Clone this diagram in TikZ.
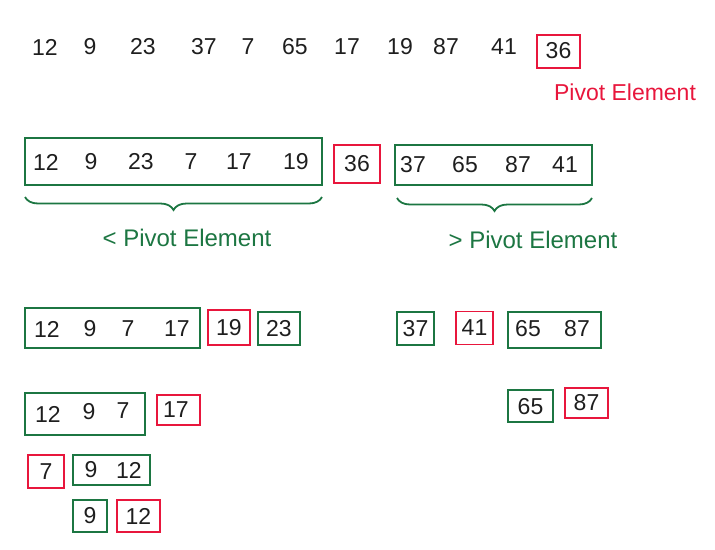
\documentclass[tikz,border=0pt]{standalone}
\usepackage{fontspec}
\setmainfont{Liberation Sans}
\usetikzlibrary{decorations.pathreplacing}
\definecolor{pgreen}{RGB}{28,118,66}
\definecolor{pred}{RGB}{232,22,60}
\definecolor{ink}{RGB}{30,30,30}
\tikzset{
  num/.style={inner sep=0pt, text=ink, font=\fontsize{23}{23}\selectfont},
  gbox/.style={draw=pgreen, line width=1.8pt, inner sep=0pt},
  rbox/.style={draw=pred, line width=1.8pt, inner sep=0pt},
  lbl/.style={inner sep=0pt, font=\fontsize{23}{23}\selectfont},
  brc/.style={draw=pgreen, line width=1.8pt, decorate, decoration={brace, mirror, amplitude=13pt}}
}
\begin{document}
\begin{tikzpicture}[x=1pt,y=1pt]
\useasboundingbox (0,0) rectangle (715,-549);
% Row 1
\node[num] (a1) at (45,-47) {12};
\node[num] (a2) at (90,-47) {9};
\node[num] (a3) at (143,-47) {23};
\node[num] (a4) at (204,-47) {37};
\node[num] (a5) at (248,-47) {7};
\node[num] (a6) at (295,-47) {65};
\node[num] (a7) at (347,-47) {17};
\node[num] (a8) at (400,-47) {19};
\node[num] (a9) at (446,-47) {87};
\node[num] (a10) at (504,-47) {41};
\node[rbox, minimum width=43, minimum height=33] (pb) at (558.5,-51.5) {};
\node[num] (a11) at (558.5,-51) {36};
\node[lbl, text=pred] (pl) at (625,-92) {Pivot Element};
% Row 2
\node[gbox, minimum width=297, minimum height=47] (L) at (173.5,-161.5) {};
\node[num] (b1) at (46,-162) {12};
\node[num] (b2) at (91,-162) {9};
\node[num] (b3) at (141,-162) {23};
\node[num] (b4) at (191,-162) {7};
\node[num] (b5) at (239,-162) {17};
\node[num] (b6) at (296,-162) {19};
\node[rbox, minimum width=46, minimum height=38] (P) at (357,-164) {};
\node[num] (b7) at (357,-164) {36};
\node[gbox, minimum width=197, minimum height=40] (R) at (493.5,-165) {};
\node[num] (b8) at (413,-165) {37};
\node[num] (b9) at (465,-165) {65};
\node[num] (b10) at (518,-165) {87};
\node[num] (b11) at (565,-165) {41};
% braces
\coordinate (l1) at (25,-197);
\coordinate (l2) at (322,-197);
\coordinate (r1) at (397,-198);
\coordinate (r2) at (592,-198);
\draw[brc] (l1) -- (l2);
\draw[brc] (r1) -- (r2);
\node[lbl, text=pgreen, font=\fontsize{24}{24}\selectfont] (ll) at (187,-238) {< Pivot Element};
\node[lbl, text=pgreen, font=\fontsize{24}{24}\selectfont] (rl) at (533,-240) {> Pivot Element};
% Row 3
\node[gbox, minimum width=175, minimum height=40] (c1) at (112.5,-328) {};
\node[num] (c1a) at (47,-329) {12};
\node[num] (c1b) at (90,-329) {9};
\node[num] (c1c) at (128,-329) {7};
\node[num] (c1d) at (177,-329) {17};
\node[rbox, minimum width=42, minimum height=35] (c2) at (229,-327.5) {};
\node[num] (c2a) at (229,-328) {19};
\node[gbox, minimum width=42, minimum height=33] (c3) at (279,-328.5) {};
\node[num] (c3a) at (279,-328.5) {23};
\node[gbox, minimum width=37, minimum height=33] (c4) at (415.5,-328.5) {};
\node[num] (c4a) at (415.5,-328.5) {37};
\node[rbox, minimum width=37, minimum height=33] (c5) at (474.5,-328) {};
\node[num] (c5a) at (474.5,-328) {41};
\node[gbox, minimum width=93, minimum height=36] (c6) at (554.5,-330) {};
\node[num] (c6a) at (528,-329) {65};
\node[num] (c6b) at (577,-329) {87};
% Row 4
\node[gbox, minimum width=120, minimum height=42] (d1) at (85,-414) {};
\node[num] (d1a) at (48,-414) {12};
\node[num] (d1b) at (89,-412) {9};
\node[num] (d1c) at (123,-411) {7};
\node[rbox, minimum width=43, minimum height=30] (d2) at (178.5,-410) {};
\node[num] (d2a) at (176,-410) {17};
\node[gbox, minimum width=45, minimum height=32] (d3) at (530.5,-406) {};
\node[num] (d3a) at (530.5,-407) {65};
\node[rbox, minimum width=43, minimum height=30] (d4) at (586.5,-403) {};
\node[num] (d4a) at (586.5,-403) {87};
% Row 5
\node[rbox, minimum width=36, minimum height=33] (e1) at (46,-471.5) {};
\node[num] (e1a) at (46,-471.5) {7};
\node[gbox, minimum width=77, minimum height=30] (e2) at (111.5,-470) {};
\node[num] (e2a) at (91,-470) {9};
\node[num] (e2b) at (129,-470) {12};
% Row 6
\node[gbox, minimum width=34, minimum height=32] (f1) at (90,-516) {};
\node[num] (f1a) at (90,-516) {9};
\node[rbox, minimum width=43, minimum height=32] (f2) at (138.5,-516) {};
\node[num] (f2a) at (138.5,-516) {12};
\end{tikzpicture}
\end{document}
